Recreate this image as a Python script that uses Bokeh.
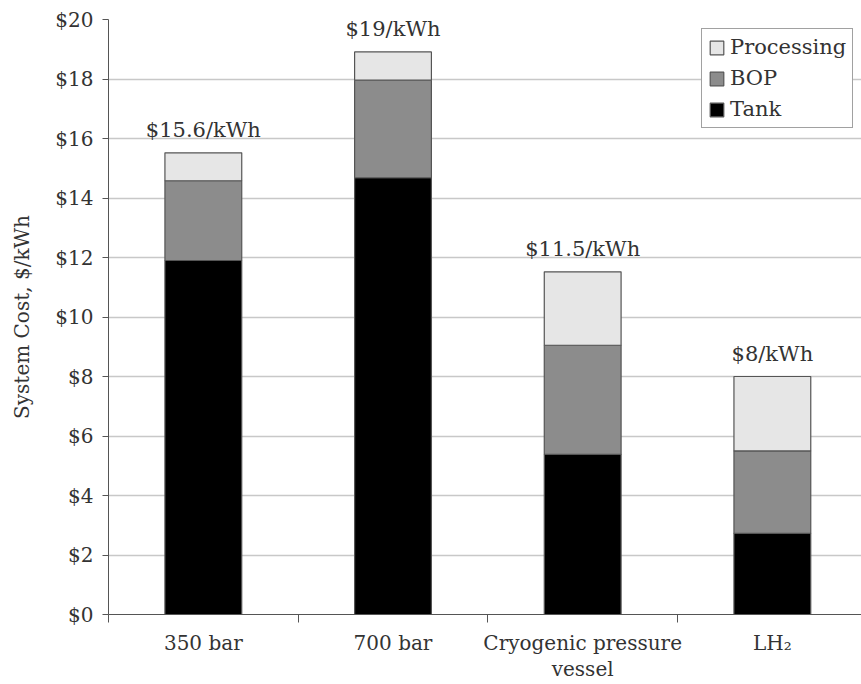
from bokeh.plotting import figure
from bokeh.models import (Range1d, FixedTicker, ColumnDataSource, Legend, LegendItem)
from bokeh.core.properties import value
from bokeh.embed import file_html
from bokeh.resources import INLINE

categories = ["350 bar", "700 bar", "Cryogenic pressure\nvessel", "LH\u2082"]
tank = [11.9, 14.68, 5.38, 2.73]
bop = [2.68, 3.28, 3.67, 2.77]
processing = [0.94, 0.95, 2.47, 2.5]
total_labels = ["$15.6/kWh", "$19/kWh", "$11.5/kWh", "$8/kWh"]
y_ticks = [0, 2, 4, 6, 8, 10, 12, 14, 16, 18, 20]

FONT = "DejaVu Serif"
TXT = "#333333"
x = [i + 0.5 for i in range(len(categories))]
totals = [a + b + c for a, b, c in zip(tank, bop, processing)]

src = ColumnDataSource(dict(x=x, tank=tank, bop=bop, processing=processing,
                            total=totals, label=total_labels))

p = figure(width=861, height=683, output_backend="svg", toolbar_location=None,
           x_range=Range1d(0, 3.97), y_range=Range1d(0, 20),
           min_border_left=108, min_border_top=19, min_border_right=0,
           min_border_bottom=60)
p.outline_line_color = None
p.xgrid.grid_line_color = None
p.ygrid.grid_line_color = "#c8c8c8"
p.ygrid.grid_line_width = 1.5

rs = p.vbar_stack(["tank", "bop", "processing"], x="x", width=0.405, source=src,
                  color=["#000000", "#8c8c8c", "#e6e6e6"],
                  line_color="#555555", line_width=1.2)

p.text(x="x", y="total", text="label", source=src, y_offset=-11,
       text_font=value(FONT), text_font_size="21px", text_color=TXT,
       text_align="center", text_baseline="bottom")

# y axis
p.yaxis.ticker = FixedTicker(ticks=y_ticks)
p.yaxis.major_label_overrides = {t: f"${t}" for t in y_ticks}
p.yaxis.axis_label = "System Cost, $/kWh"
p.yaxis.axis_label_text_font = FONT
p.yaxis.axis_label_text_font_style = "normal"
p.yaxis.axis_label_text_font_size = "20px"
p.yaxis.axis_label_text_color = TXT
p.yaxis.axis_label_standoff = 18
p.yaxis.major_label_text_font = FONT
p.yaxis.major_label_text_font_size = "20px"
p.yaxis.major_label_text_color = TXT
p.yaxis.major_tick_in = 0
p.yaxis.major_tick_out = 6
p.yaxis.minor_tick_line_color = None
p.yaxis.axis_line_color = "#555555"
p.yaxis.major_tick_line_color = "#555555"
p.yaxis.major_label_standoff = 9

# x axis
p.xaxis.ticker = FixedTicker(ticks=x, minor_ticks=list(range(len(categories) + 1)))
p.xaxis.major_label_overrides = {xi: c for xi, c in zip(x, categories)}
p.xaxis.major_tick_line_color = None
p.xaxis.major_tick_out = 0
p.xaxis.major_tick_in = 0
p.xaxis.minor_tick_line_color = "#555555"
p.xaxis.minor_tick_in = 0
p.xaxis.minor_tick_out = 8
p.xaxis.axis_line_color = "#555555"
p.xaxis.major_label_text_font = FONT
p.xaxis.major_label_text_font_size = "20px"
p.xaxis.major_label_text_color = TXT
p.xaxis.major_label_text_line_height = 1.1
p.xaxis.major_label_standoff = 8

legend = Legend(items=[LegendItem(label="Processing", renderers=[rs[2]]),
                       LegendItem(label="BOP", renderers=[rs[1]]),
                       LegendItem(label="Tank", renderers=[rs[0]])],
                location=(593, 486))
legend.label_text_font = FONT
legend.label_text_font_size = "21px"
legend.label_text_color = TXT
legend.glyph_width = 17
legend.glyph_height = 17
legend.label_height = 20
legend.spacing = 7
legend.padding = 6
legend.margin = 0
legend.label_standoff = 5
legend.border_line_color = "#444444"
legend.border_line_width = 1.5
legend.background_fill_color = "white"
legend.background_fill_alpha = 1
p.add_layout(legend)

open("out.html", "w").write(file_html(p, INLINE))
